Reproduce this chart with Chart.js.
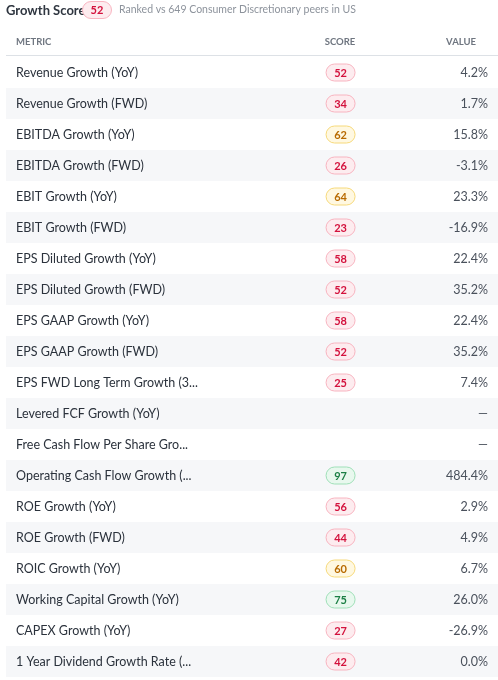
<!DOCTYPE html>
<html><head><meta charset="utf-8">
<script src="https://cdn.jsdelivr.net/npm/chart.js@4/dist/chart.umd.min.js"></script>
<style>html,body{margin:0;background:#fff}#wrap{width:498px;height:680px}</style>
</head><body><div id="wrap"><canvas id="tbl"></canvas></div>
<script>
// table content
const metrics = ['Revenue Growth (YoY)','Revenue Growth (FWD)','EBITDA Growth (YoY)','EBITDA Growth (FWD)','EBIT Growth (YoY)','EBIT Growth (FWD)','EPS Diluted Growth (YoY)','EPS Diluted Growth (FWD)','EPS GAAP Growth (YoY)','EPS GAAP Growth (FWD)','EPS FWD Long Term Growth (3...','Levered FCF Growth (YoY)','Free Cash Flow Per Share Gro...','Operating Cash Flow Growth (...','ROE Growth (YoY)','ROE Growth (FWD)','ROIC Growth (YoY)','Working Capital Growth (YoY)','CAPEX Growth (YoY)','1 Year Dividend Growth Rate (...'];
const scores = [52,34,62,26,64,23,58,52,58,52,25,null,null,97,56,44,60,75,27,42];
const values = ['4.2%','1.7%','15.8%','-3.1%','23.3%','-16.9%','22.4%','35.2%','22.4%','35.2%','7.4%','—','—','484.4%','2.9%','4.9%','6.7%','26.0%','-26.9%','0.0%'];
const overallScore = 52;
const subtitle = 'Ranked vs 649 Consumer Discretionary peers in US';

const FONT = 'Lato, sans-serif';

function badgeColors(s) {
  if (s >= 70) return ['#e8f8ee', '#9fe0b8', '#1b7f45'];
  if (s >= 60) return ['#fff8e1', '#f6d97a', '#b86a00'];
  return ['#fdecef', '#f8b4c0', '#d3123d'];
}

function roundRect(ctx, x, y, w, h, r) {
  ctx.beginPath();
  ctx.moveTo(x + r, y);
  ctx.arcTo(x + w, y, x + w, y + h, r);
  ctx.arcTo(x + w, y + h, x, y + h, r);
  ctx.arcTo(x, y + h, x, y, r);
  ctx.arcTo(x, y, x + w, y, r);
  ctx.closePath();
}

function badge(ctx, cx, cy, s) {
  const [bg, bd, fg] = badgeColors(s);
  roundRect(ctx, cx - 14.5, cy - 8.5, 29, 17, 8.5);
  ctx.fillStyle = bg; ctx.fill();
  ctx.strokeStyle = bd; ctx.lineWidth = 1; ctx.stroke();
  ctx.fillStyle = fg;
  ctx.font = 'bold 11px ' + FONT;
  ctx.textAlign = 'center'; ctx.textBaseline = 'middle';
  ctx.fillText(String(s), cx, cy + 0.5);
}

const tablePlugin = {
  id: 'tablePlugin',
  beforeDatasetsDraw(chart) {
    const ctx = chart.ctx, ys = chart.scales.y, area = chart.chartArea;
    ctx.save();
    // striped rows
    metrics.forEach((m, i) => {
      const top = ys.getPixelForValue(i - 0.5), bot = ys.getPixelForValue(i + 0.5);
      if (i % 2 === 1) { ctx.fillStyle = '#f6f7f9'; ctx.fillRect(area.left, top, area.right - area.left, bot - top); }
    });
    // header
    ctx.fillStyle = '#2f3640';
    ctx.font = 'bold 13px ' + FONT;
    ctx.textAlign = 'left'; ctx.textBaseline = 'middle';
    ctx.fillText('Growth Score', 6, 11);
    badge(ctx, 97, 10, overallScore);
    ctx.fillStyle = '#8d939c'; ctx.font = '10.5px ' + FONT; ctx.textAlign = 'left';
    ctx.fillText(subtitle, 119, 10);
    ctx.fillStyle = '#6f7680'; ctx.font = 'bold 9.5px ' + FONT;
    ctx.fillText('METRIC', 16, 42);
    ctx.textAlign = 'center'; ctx.fillText('SCORE', 340, 42);
    ctx.textAlign = 'right'; ctx.fillText('VALUE', 476, 42);
    ctx.strokeStyle = '#dde1e6'; ctx.lineWidth = 1;
    ctx.beginPath(); ctx.moveTo(area.left, 55.5); ctx.lineTo(area.right, 55.5); ctx.stroke();
    ctx.restore();
  },
  afterDatasetsDraw(chart) {
    const ctx = chart.ctx, ys = chart.scales.y, xs = chart.scales.x;
    ctx.save();
    metrics.forEach((m, i) => {
      const y = ys.getPixelForValue(i);
      ctx.fillStyle = '#2b323c'; ctx.font = '12.5px ' + FONT;
      ctx.textAlign = 'left'; ctx.textBaseline = 'middle';
      ctx.fillText(m, 16, y);
      if (scores[i] != null) badge(ctx, xs.getPixelForValue(0.68), y, scores[i]);
      ctx.fillStyle = '#4a515c'; ctx.font = '12.5px ' + FONT; ctx.textAlign = 'right';
      ctx.fillText(values[i], 488, y);
    });
    ctx.restore();
  }
};

new Chart(document.getElementById('tbl'), {
  type: 'scatter',
  data: { datasets: [{ data: scores.map((s, i) => ({ x: 0.68, y: i })), pointRadius: 0 }] },
  options: {
    responsive: true, maintainAspectRatio: false, animation: false,
    layout: { padding: { top: 57, bottom: 3, left: 6, right: 0 } },
    plugins: { legend: { display: false }, tooltip: { enabled: false } },
    scales: {
      x: { display: false, min: 0, max: 1 },
      y: { display: false, min: -0.5, max: metrics.length - 0.5, reverse: true }
    }
  },
  plugins: [tablePlugin]
});
</script></body></html>
